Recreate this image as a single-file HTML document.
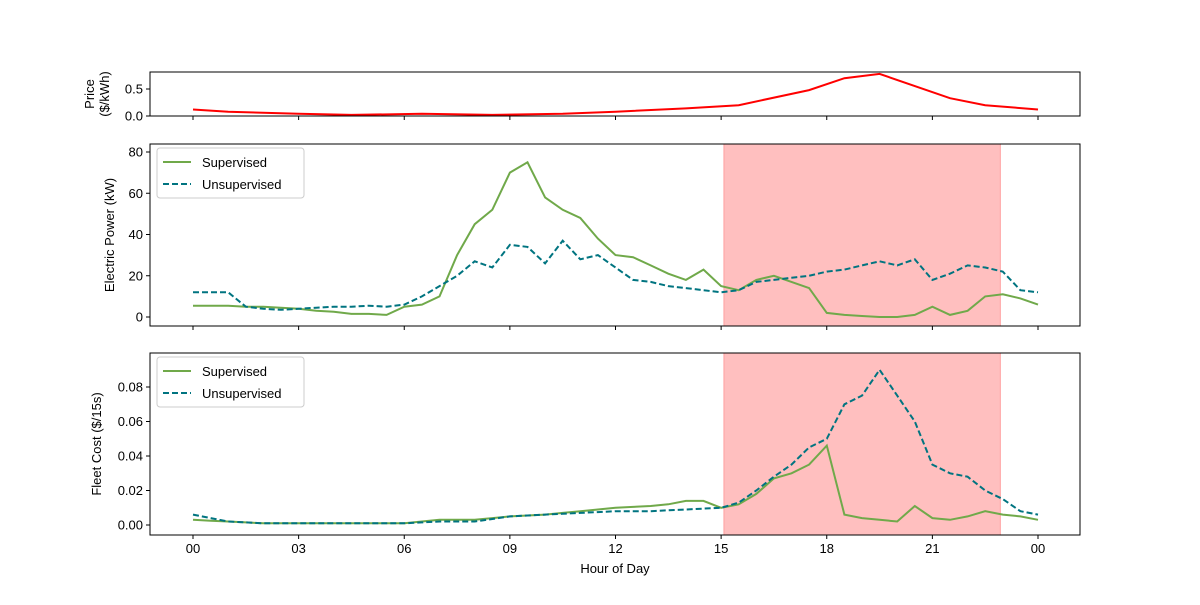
<!DOCTYPE html>
<html><head><meta charset="utf-8"><style>
body{margin:0;background:#fff;}
svg text{font-family:"Liberation Sans","DejaVu Sans",sans-serif;font-size:13px;fill:#000;}
</style></head><body>
<svg id="c" width="1200" height="600" xmlns="http://www.w3.org/2000/svg"></svg>
<script>
const hours=[];for(let i=0;i<=48;i++)hours.push(i*0.5);
const priceHours=[0,1,3,4.5,6.5,8.5,10.5,12,14,15.5,17.5,18.5,19.5,21.5,22.5,24];
const priceVals=[0.12,0.08,0.04,0.02,0.04,0.02,0.04,0.08,0.14,0.2,0.48,0.7,0.78,0.33,0.2,0.12];
const powerSup=[5.5,5.5,5.5,5,5,4.5,4,3,2.5,1.5,1.5,1,5,6,10,30,45,52,70,75,58,52,48,38,30,29,25,21,18,23,15,13,18,20,17,14,2,1,0.5,0,0,1,5,1,3,10,11,9,6];
const powerUns=[12,12,12,5,4,3.5,4,4.5,5,5,5.5,5,6,10,15,20,27,24,35,34,26,37,28,30,24,18,17,15,14,13,12,13,17,18,19,20,22,23,25,27,25,28,18,21,25,24,22,13,12];
const costSup=[0.003,0.0025,0.002,0.0015,0.001,0.001,0.001,0.001,0.001,0.001,0.001,0.001,0.001,0.002,0.003,0.003,0.003,0.004,0.005,0.0055,0.006,0.007,0.008,0.009,0.01,0.0105,0.011,0.012,0.014,0.014,0.01,0.012,0.018,0.027,0.03,0.035,0.046,0.006,0.004,0.003,0.002,0.011,0.004,0.003,0.005,0.008,0.006,0.005,0.003];
const costUns=[0.006,0.004,0.002,0.0015,0.001,0.001,0.001,0.001,0.001,0.001,0.001,0.001,0.001,0.0015,0.002,0.002,0.002,0.0035,0.005,0.0055,0.006,0.0065,0.007,0.0075,0.008,0.008,0.008,0.0085,0.009,0.0095,0.01,0.013,0.02,0.028,0.035,0.045,0.05,0.07,0.075,0.09,0.075,0.06,0.035,0.03,0.028,0.02,0.015,0.008,0.006];
const xTicks=[0,3,6,9,12,15,18,21,24];
const xTickLabels=["00","03","06","09","12","15","18","21","00"];
const peakStart=15.08, peakEnd=22.93;
const NS="http://www.w3.org/2000/svg";
const svg=document.getElementById('c');
function el(t,a,p){const e=document.createElementNS(NS,t);for(const k in a)e.setAttribute(k,a[k]);(p||svg).appendChild(e);return e;}
const X=h=>193+h*(1038-193)/24;
const L=150,R=1080;
const panels=[
 {top:72,bot:116,y:v=>116-v*54,ticks:[0,0.5],fmt:v=>v.toFixed(1),name:'price'},
 {top:144,bot:326,y:v=>317-v*(165/80),ticks:[0,20,40,60,80],fmt:v=>String(v),name:'power'},
 {top:353,bot:535,y:v=>525-v*(138/0.08),ticks:[0,0.02,0.04,0.06,0.08],fmt:v=>v.toFixed(2),name:'cost'}
];
function line(xs,ys,p,color,dash,name){
  let d='';xs.forEach((h,i)=>{d+=(i?'L':'M')+X(h).toFixed(1)+','+p.y(ys[i]).toFixed(1);});
  const e=el('path',{d:d,fill:'none',stroke:color,'stroke-width':2,'stroke-dasharray':dash||'none'});
  
  
}
panels.forEach((p,pi)=>{
  if(pi>0){const s=el('rect',{x:X(peakStart),y:p.top,width:X(peakEnd)-X(peakStart),height:p.bot-p.top,fill:'#ffbfbf',stroke:'#ffa0a0'});
    }
  p.ticks.forEach(t=>{const yy=p.y(t);el('line',{x1:L-4,x2:L,y1:yy,y2:yy,stroke:'#000'});
    const tx=el('text',{x:L-7,y:yy+4.5,'text-anchor':'end'});tx.textContent=p.fmt(t);
    });
  xTicks.forEach((t,i)=>{el('line',{x1:X(t),x2:X(t),y1:p.bot,y2:p.bot+4,stroke:'#000'});
    if(pi==2){const tx=el('text',{x:X(t),y:p.bot+18,'text-anchor':'middle'});tx.textContent=xTickLabels[i];
      }});
});
line(priceHours,priceVals,panels[0],'#ff0000',null,'price-line');
line(hours,powerSup,panels[1],'#70a94a',null,'power-supervised-line');
line(hours,powerUns,panels[1],'#007480','6,3','power-unsupervised-line');
line(hours,costSup,panels[2],'#70a94a',null,'cost-supervised-line');
line(hours,costUns,panels[2],'#007480','6,3','cost-unsupervised-line');
panels.forEach(p=>{const f=el('rect',{x:L,y:p.top,width:R-L,height:p.bot-p.top,fill:'none',stroke:'#000'});
  });
function legend(y0){
  const g=el('g',{});
  el('rect',{x:157,y:y0,width:147,height:50,rx:3,fill:'#fff','fill-opacity':0.85,stroke:'#ccc'},g);
  el('line',{x1:163,x2:191,y1:y0+14,y2:y0+14,stroke:'#70a94a','stroke-width':2},g);
  el('line',{x1:163,x2:191,y1:y0+36,y2:y0+36,stroke:'#007480','stroke-width':2,'stroke-dasharray':'6,3'},g);
  const a=el('text',{x:202,y:y0+19},g);a.textContent='Supervised';
  const b=el('text',{x:202,y:y0+41},g);b.textContent='Unsupervised';
}
legend(148);legend(357);
function ylab(x,y,lines,name){const t=el('text',{transform:`translate(${x},${y}) rotate(-90)`,'text-anchor':'middle'});
  
  lines.forEach((s,i)=>{const ts=el('tspan',{x:0,dy:i?15:0},t);ts.textContent=s;});}
ylab(94,94,['Price','($/kWh)'],'price-axis-title');
ylab(114,235,['Electric Power (kW)'],'power-axis-title');
ylab(101,444,['Fleet Cost ($/15s)'],'cost-axis-title');
const xl=el('text',{x:615,y:573,'text-anchor':'middle'});xl.textContent='Hour of Day';

</script>
</body></html>
